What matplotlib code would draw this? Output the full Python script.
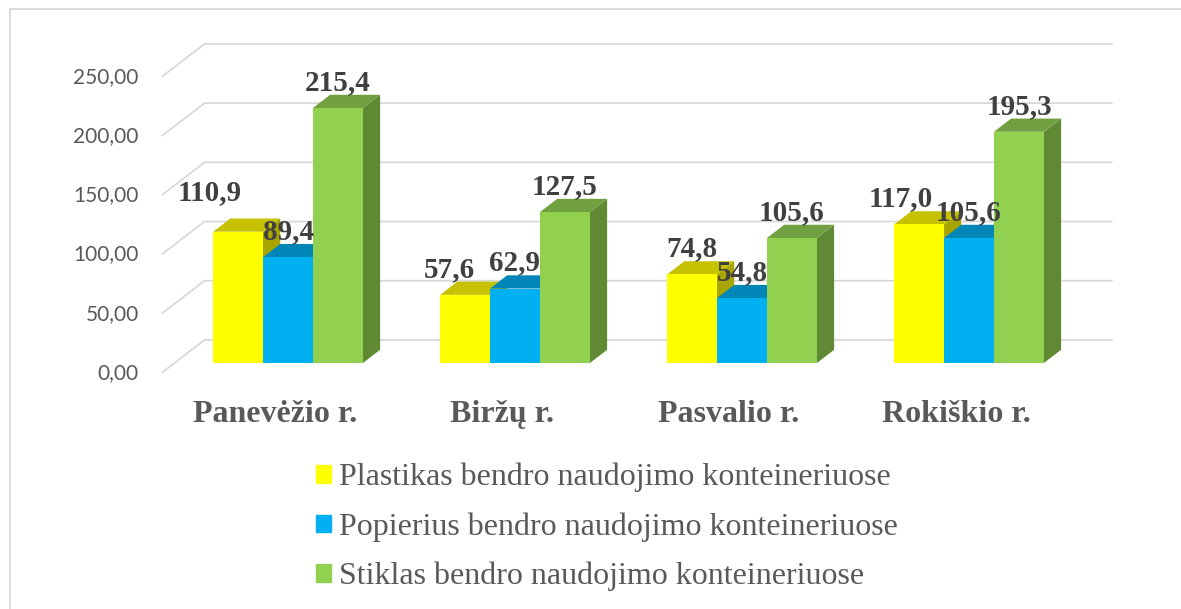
import numpy as np
import matplotlib.pyplot as plt
from matplotlib.patches import Polygon, Patch
from matplotlib.lines import Line2D

regions = ["Panevėžio r.", "Biržų r.", "Pasvalio r.", "Rokiškio r."]
series = ["Plastikas bendro naudojimo konteineriuose",
          "Popierius bendro naudojimo konteineriuose",
          "Stiklas bendro naudojimo konteineriuose"]
plastikas = [110.9, 57.6, 74.8, 117.0]
popierius = [89.4, 62.9, 54.8, 105.6]
stiklas = [215.4, 127.5, 105.6, 195.3]
yticks = [0, 50, 100, 150, 200, 250]

front_col = ["#ffff00", "#00b0f0", "#92d050"]
top_col = ["#c6c200", "#0087b8", "#70a040"]
side_col = ["#a8a400", "#0074a0", "#5f8a33"]

#yellow labels were dragged by hand in the original sheet (px)
lab_nudge_x = [-28.5, -16, 0, -18.5]
lab_nudge_y = [-14, 0, 0, 0]

W, H = 1181, 609
fig = plt.figure(figsize=(W / 100, H / 100), dpi=100)
ax = fig.add_axes([0, 0, 1, 1])

PX_X = 227.0	#pixels per category
PX_Y = 1.184	#pixels per value unit
x0_px = 288	#first group centre
y0_px = 363	#bar base on the front face
ax.set_xlim(-x0_px / PX_X, (W - x0_px) / PX_X)
ax.set_ylim(-(H - y0_px) / PX_Y, y0_px / PX_Y)
ax.axis("off")

#fake 3d: depth t=0 front edge of floor, t=1 back wall
DX = 43 / PX_X
DY = 33 / PX_Y
bar_front, bar_back = 0.3, 0.7

def depth(x, y, t):
	return (x + (t - bar_front) * DX, y + (t - bar_front) * DY)

x_left, x_right = -0.5, 3.5
grid_c = "#d9d9d9"
for v in yticks:
	p0 = depth(x_left, v, 0)
	p1 = depth(x_left, v, 1)
	p2 = depth(x_right, v, 1)
	ax.plot([p0[0], p1[0], p2[0]], [p0[1], p1[1], p2[1]], color=grid_c, lw=1.3, zorder=1, solid_capstyle="butt")
	ax.text(p0[0] - 23 / PX_X, p0[1], ("%.2f" % v).replace(".", ","), ha="right", va="center",
		fontsize=15, family="Lato", color="#595959")

bw = 0.22
data = [plastikas, popierius, stiklas]
for s in range(3):
	xs = np.arange(len(regions)) + (s - 1) * bw
	for i, v in enumerate(data[s]):
		xl, xr = xs[i] - bw / 2, xs[i] + bw / 2
		side = [(xr, 0), depth(xr, 0, bar_back), depth(xr, v, bar_back), (xr, v)]
		top = [(xl, v), (xr, v), depth(xr, v, bar_back), depth(xl, v, bar_back)]
		ax.add_patch(Polygon(side, closed=True, fc=side_col[s], ec="none", zorder=3 + s))
		ax.add_patch(Polygon(top, closed=True, fc=top_col[s], ec="none", zorder=3 + s))
	ax.bar(xs, data[s], width=bw, color=front_col[s], zorder=3 + s)

	for i, v in enumerate(data[s]):
		dx, dy = 0, 0
		if s == 0:
			dx, dy = lab_nudge_x[i], lab_nudge_y[i]
		ax.text(xs[i] + dx / PX_X, v + (18 - dy) / PX_Y, ("%.1f" % v).replace(".", ","),
			ha="center", va="baseline", fontsize=21, family="Liberation Serif",
			fontweight="bold", color="#404040", zorder=10)

for i, r in enumerate(regions):
	ax.text(i - bar_front * DX, -(422 - y0_px) / PX_Y, r, ha="center", va="baseline",
		fontsize=23, family="Liberation Serif", fontweight="bold", color="#595959")

handles = [Patch(color=c) for c in front_col]
fig.legend(handles, series, loc="upper left", bbox_to_anchor=(316 / W, 1 - 463 / H),
	frameon=False, borderpad=0, borderaxespad=0, handlelength=0.47, handleheight=0.47,
	handletextpad=0.25, labelspacing=0.62, prop={"family": "Liberation Serif", "size": 23},
	labelcolor="#595959")

#chart area border (only top and left fall inside the image)
fig.add_artist(Line2D([10 / W, 10 / W, 1], [0, 1 - 9 / H, 1 - 9 / H], transform=fig.transFigure,
	color=grid_c, lw=1.3))

fig.savefig("out.png", dpi=100)
